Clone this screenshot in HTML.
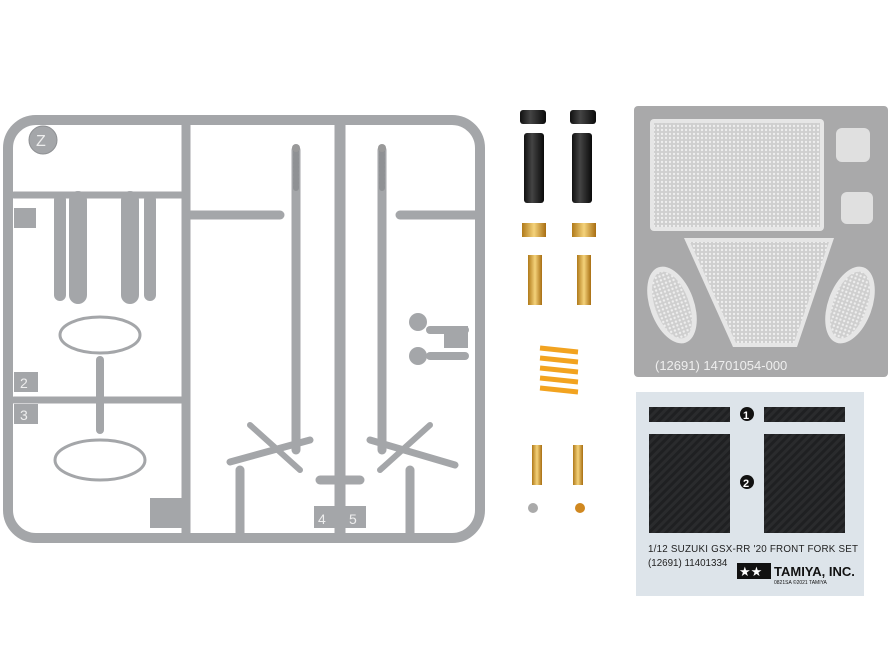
<!DOCTYPE html>
<html><head><style>
body{margin:0;background:#fff;}
svg{display:block}
text{font-family:"Liberation Sans",sans-serif}
</style></head><body>
<svg width="889" height="667" viewBox="0 0 889 667">
<defs>
<pattern id="mesh" width="4" height="4" patternUnits="userSpaceOnUse"><rect width="4" height="4" fill="#cfcfcf"/><circle cx="2" cy="2" r="1.2" fill="#eee"/></pattern>
<pattern id="carbon" width="6" height="6" patternUnits="userSpaceOnUse" patternTransform="rotate(45)"><rect width="6" height="6" fill="#2a2b2d"/><rect width="3" height="6" fill="#1f2022"/></pattern>
<linearGradient id="gold" x1="0" x2="1"><stop offset="0" stop-color="#b07a1a"/><stop offset=".5" stop-color="#f4d27a"/><stop offset="1" stop-color="#a86e12"/></linearGradient>
<linearGradient id="blk" x1="0" x2="1"><stop offset="0" stop-color="#111"/><stop offset=".4" stop-color="#444"/><stop offset="1" stop-color="#0a0a0a"/></linearGradient>
</defs>
<g stroke="#a4a6a9" fill="none" stroke-linecap="round">
<rect x="8" y="120" width="472" height="418" rx="28" stroke-width="10"/>
<line x1="186" y1="125" x2="186" y2="533" stroke-width="9"/>
<line x1="340" y1="125" x2="340" y2="533" stroke-width="11"/>
<line x1="190" y1="215" x2="280" y2="215" stroke-width="9"/>
<line x1="400" y1="215" x2="475" y2="215" stroke-width="9"/>
<line x1="14" y1="400" x2="182" y2="400" stroke-width="7"/>
<line x1="14" y1="195" x2="182" y2="195" stroke-width="7"/>
<line x1="296" y1="150" x2="296" y2="450" stroke-width="9"/>
<line x1="382" y1="150" x2="382" y2="450" stroke-width="9"/>
<line x1="296" y1="150" x2="296" y2="190" stroke-width="6" stroke="#8f9194" stroke-dasharray="2 2"/>
<line x1="382" y1="150" x2="382" y2="190" stroke-width="6" stroke="#8f9194" stroke-dasharray="2 2"/>
<line x1="60" y1="200" x2="60" y2="295" stroke-width="12"/>
<line x1="78" y1="200" x2="78" y2="295" stroke-width="18"/>
<line x1="130" y1="200" x2="130" y2="295" stroke-width="18"/>
<line x1="150" y1="200" x2="150" y2="295" stroke-width="12"/>
<line x1="100" y1="360" x2="100" y2="430" stroke-width="8"/>
<line x1="240" y1="470" x2="240" y2="533" stroke-width="9"/>
<line x1="410" y1="470" x2="410" y2="533" stroke-width="9"/>
<line x1="320" y1="480" x2="360" y2="480" stroke-width="9"/>
<line x1="230" y1="462" x2="310" y2="440" stroke-width="7"/>
<line x1="370" y1="440" x2="455" y2="465" stroke-width="7"/>
<line x1="250" y1="425" x2="300" y2="470" stroke-width="6"/>
<line x1="430" y1="425" x2="380" y2="470" stroke-width="6"/>
<line x1="430" y1="330" x2="465" y2="330" stroke-width="8"/>
<line x1="430" y1="356" x2="465" y2="356" stroke-width="8"/>
</g>
<circle cx="296" cy="148" r="4" fill="#999"/><circle cx="382" cy="148" r="4" fill="#999"/>
<g fill="none" stroke="#a4a6a9" stroke-width="3">
<ellipse cx="100" cy="335" rx="40" ry="18"/>
<ellipse cx="100" cy="460" rx="45" ry="20"/>
</g>
<circle cx="43" cy="140" r="14" fill="#a4a6a9" stroke="#8e9093"/>
<text x="36" y="146" font-size="16" fill="#eee">Z</text>
<rect x="14" y="208" width="22" height="20" fill="#a4a6a9"/>
<rect x="14" y="372" width="24" height="20" fill="#a4a6a9"/><text x="20" y="388" font-size="14" fill="#eee">2</text>
<rect x="14" y="404" width="24" height="20" fill="#a4a6a9"/><text x="20" y="420" font-size="14" fill="#eee">3</text>
<rect x="150" y="498" width="32" height="30" fill="#a4a6a9"/>
<rect x="314" y="506" width="22" height="22" fill="#a4a6a9"/><text x="318" y="524" font-size="14" fill="#eee">4</text>
<rect x="344" y="506" width="22" height="22" fill="#a4a6a9"/><text x="349" y="524" font-size="14" fill="#eee">5</text>
<rect x="444" y="326" width="24" height="22" fill="#a4a6a9"/>
<circle cx="418" cy="322" r="9" fill="#a4a6a9"/><circle cx="418" cy="356" r="9" fill="#a4a6a9"/>
<rect x="520" y="110" width="26" height="14" rx="3" fill="url(#blk)"/>
<rect x="524" y="133" width="20" height="70" rx="3" fill="url(#blk)"/>
<rect x="570" y="110" width="26" height="14" rx="3" fill="url(#blk)"/>
<rect x="572" y="133" width="20" height="70" rx="3" fill="url(#blk)"/>
<rect x="522" y="223" width="24" height="14" fill="url(#gold)"/>
<rect x="528" y="255" width="14" height="50" fill="url(#gold)"/>
<rect x="572" y="223" width="24" height="14" fill="url(#gold)"/>
<rect x="577" y="255" width="14" height="50" fill="url(#gold)"/>
<g stroke="#f2a320" stroke-width="5" fill="none">
<path d="M540 348 L578 352 M540 358 L578 362 M540 368 L578 372 M540 378 L578 382 M540 388 L578 392"/>
</g>
<rect x="532" y="445" width="10" height="40" fill="url(#gold)"/>
<rect x="573" y="445" width="10" height="40" fill="url(#gold)"/>
<circle cx="533" cy="508" r="5" fill="#aaa"/><circle cx="580" cy="508" r="5" fill="#d08820"/>
<rect x="634" y="106" width="254" height="271" rx="4" fill="#a9a9aa"/>
<rect x="650" y="119" width="174" height="112" rx="4" fill="#e6e6e6"/>
<rect x="654" y="123" width="166" height="104" fill="url(#mesh)"/>
<path d="M684 238 L834 238 L797 347 L733 347 Z" fill="#e6e6e6"/>
<path d="M690 242 L829 242 L794 343 L736 343 Z" fill="url(#mesh)"/>
<ellipse cx="672" cy="305" rx="22" ry="40" transform="rotate(-20 672 305)" fill="#e6e6e6"/>
<ellipse cx="672" cy="305" rx="17" ry="35" transform="rotate(-20 672 305)" fill="url(#mesh)"/>
<ellipse cx="850" cy="305" rx="22" ry="40" transform="rotate(20 850 305)" fill="#e6e6e6"/>
<ellipse cx="850" cy="305" rx="17" ry="35" transform="rotate(20 850 305)" fill="url(#mesh)"/>
<rect x="836" y="128" width="34" height="34" rx="6" fill="#e0e0e0"/>
<rect x="841" y="192" width="32" height="32" rx="6" fill="#e0e0e0"/>
<text x="655" y="370" font-size="13" fill="#eee">(12691) 14701054-000</text>
<rect x="636" y="392" width="228" height="204" fill="#dde4ea"/>
<rect x="649" y="407" width="81" height="15" fill="url(#carbon)"/>
<rect x="764" y="407" width="81" height="15" fill="url(#carbon)"/>
<rect x="649" y="434" width="81" height="99" fill="url(#carbon)"/>
<rect x="764" y="434" width="81" height="99" fill="url(#carbon)"/>
<circle cx="747" cy="414" r="7" fill="#111"/><text x="743" y="419" font-size="11" fill="#fff" font-weight="bold">1</text>
<circle cx="747" cy="482" r="7" fill="#111"/><text x="743" y="487" font-size="11" fill="#fff" font-weight="bold">2</text>
<text x="648" y="552" font-size="9.8" fill="#222" textLength="210">1/12 SUZUKI GSX-RR '20 FRONT FORK SET</text>
<text x="648" y="566" font-size="9.8" fill="#222">(12691) 11401334</text>
<rect x="737" y="563" width="34" height="16" fill="#111"/>
<text x="739" y="576" font-size="13" fill="#fff">★★</text>
<text x="774" y="576" font-size="13" font-weight="bold" fill="#111">TAMIYA, INC.</text>
<text x="774" y="584" font-size="5" fill="#111">0821SA    ©2021 TAMIYA</text>
</svg>
</body></html>
